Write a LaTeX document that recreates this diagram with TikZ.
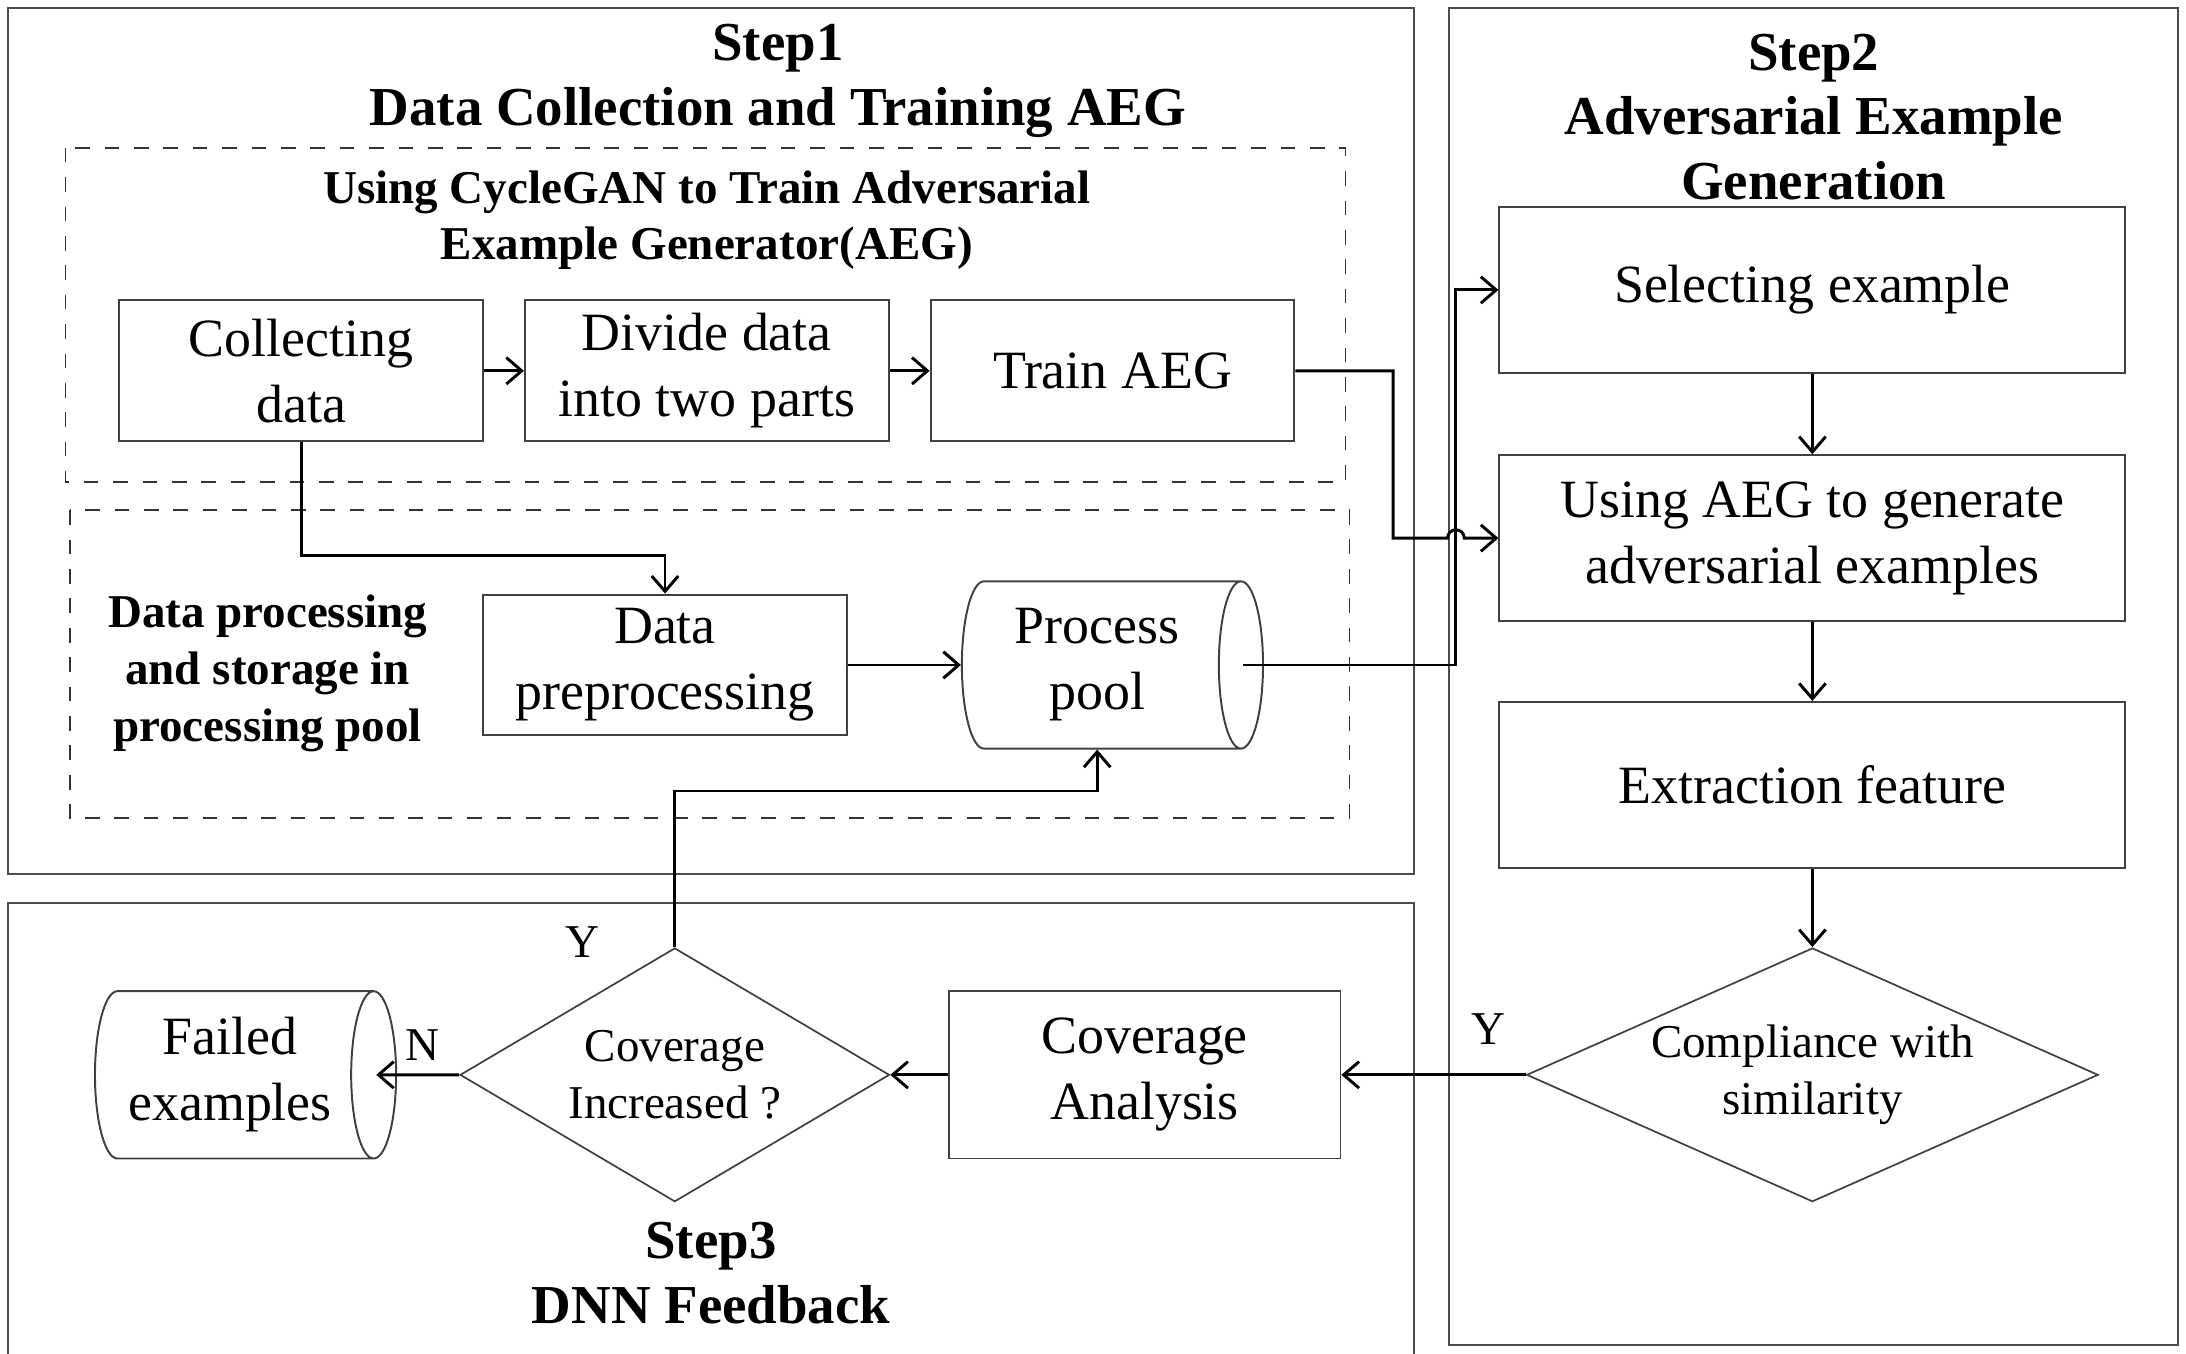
\documentclass[tikz,border=0pt]{standalone}
\usepackage{fontspec}
\setmainfont{Liberation Serif}
\usepackage{tikz}
\usetikzlibrary{shapes.geometric,arrows.meta}

\begin{document}
\begin{tikzpicture}
    \useasboundingbox (0,0) rectangle (15.68,9.71);
    \tikzstyle{stage}=[draw=black!70, line width=0.4pt]
    \tikzstyle{group}=[draw=black!80, dashed, line width=0.35pt]
    \tikzstyle{title}=[align=center, font=\bfseries\fontsize{11.2}{13.2}\selectfont]
    \tikzstyle{subtitle}=[align=center, font=\bfseries\fontsize{9.6}{11.6}\selectfont]
    \tikzstyle{box}=[rectangle, draw=black!75, line width=0.4pt, align=center, inner sep=1pt, font=\fontsize{11}{13.5}\selectfont]
    \tikzstyle{pool}=[cylinder, draw=black!75, line width=0.4pt, shape aspect=0.36, minimum width=1.2cm, minimum height=2.16cm, inner sep=1pt, align=center, font=\fontsize{11}{13.5}\selectfont]
    \tikzstyle{decide}=[diamond, draw=black!75, line width=0.35pt, inner sep=0pt, align=center, font=\fontsize{9.6}{11.7}\selectfont]
    \tikzstyle{tag}=[font=\fontsize{9.6}{11}\selectfont]

    % the three stages
    \draw[stage] (0.06,9.65) rectangle (10.14,3.44);
    \draw[stage] (10.39,9.65) rectangle (15.62,0.06);
    \draw[stage] (0.06,3.23) rectangle (10.14,-0.05);
    \draw[group] (0.47,8.65) rectangle (9.65,6.25);
    \draw[group] (0.50,6.05) rectangle (9.68,3.84);

    \node[title] (T1) at (5.58,9.13) {Step1\\Data Collection and Training AEG};
    \node[title] (T2) at (13.01,8.87) {Step2\\Adversarial Example\\Generation};
    \node[title] (T3) at (5.10,0.58) {Step3\\DNN Feedback};
    \node[subtitle] (G1) at (5.07,8.13) {Using CycleGAN to Train Adversarial\\Example Generator(AEG)};
    \node[subtitle] (G2) at (1.92,4.88) {Data processing\\and storage in\\processing pool};

    % step 1
    \node[box, minimum width=2.61cm, minimum height=1.01cm] (CD) at (2.16,7.05) {Collecting\\data};
    \node[box, minimum width=2.61cm, minimum height=1.01cm] (DD) at (5.07,7.05) {Divide data\\into two parts};
    \node[box, minimum width=2.61cm, minimum height=1.01cm] (TA) at (7.98,7.05) {Train AEG};
    \node[box, minimum width=2.61cm, minimum height=1.01cm] (DP) at (4.77,4.94) {Data\\preprocessing};
    \node[pool] (PP) at (7.87,4.94) {Process\\pool};

    % step 2
    \node[box, minimum width=4.49cm, minimum height=1.19cm] (SE) at (13.00,7.63) {Selecting example};
    \node[box, minimum width=4.49cm, minimum height=1.19cm] (UA) at (13.00,5.85) {Using AEG to generate\\adversarial examples};
    \node[box, minimum width=4.49cm, minimum height=1.19cm] (EF) at (13.00,4.08) {Extraction feature};
    \node[decide, aspect=2.25, minimum width=4.10cm, minimum height=1.82cm] (CS) at (13.00,2.00) {Compliance with\\similarity};

    % step 3
    \node[box, minimum width=2.81cm, minimum height=1.20cm] (CA) at (8.21,2.00) {Coverage\\Analysis};
    \node[decide, aspect=1.69, minimum width=3.08cm, minimum height=1.82cm] (CI) at (4.84,2.00) {Coverage\\Increased ?};
    \node[pool] (FE) at (1.65,2.00) {Failed\\examples};

    \node[tag] (Y1) at (4.18,2.95) {Y};
    \node[tag] (N1) at (3.03,2.21) {N};
    \node[tag] (Y2) at (10.68,2.33) {Y};

    \tikzstyle{link}=[->, >={Straight Barb[length=1.1mm,width=1.9mm]}, line width=0.6pt]

    \path (UA.west) ++(-0.755,0) coordinate (bend);
    \path (UA.west) ++(-0.305,0) coordinate (jump);

    \draw[link] (CD) -- (DD);
    \draw[link] (DD) -- (TA);
    \draw[link] (TA.east) -| (bend) -- ([xshift=-0.06cm]jump) arc[start angle=180, end angle=0, radius=0.06cm] -- (UA.west);
    \draw[link] (CD.south) -- ++(0,-0.81) -| (DP.north);
    \draw[link] (DP) -- (PP);
    \draw[link] ([xshift=-0.15cm]PP.east) -| (jump |- SE.west) -- (SE.west);
    \draw[link] (SE) -- (UA);
    \draw[link] (UA) -- (EF);
    \draw[link] (EF) -- (CS);
    \draw[link] (CS) -- (CA);
    \draw[link] (CA) -- (CI);
    \draw[link] (CI.west) -- ([xshift=-0.15cm]FE.east);
    \draw[link] (CI.north) -- ++(0,1.12) -| (PP.south);
\end{tikzpicture}
\end{document}
